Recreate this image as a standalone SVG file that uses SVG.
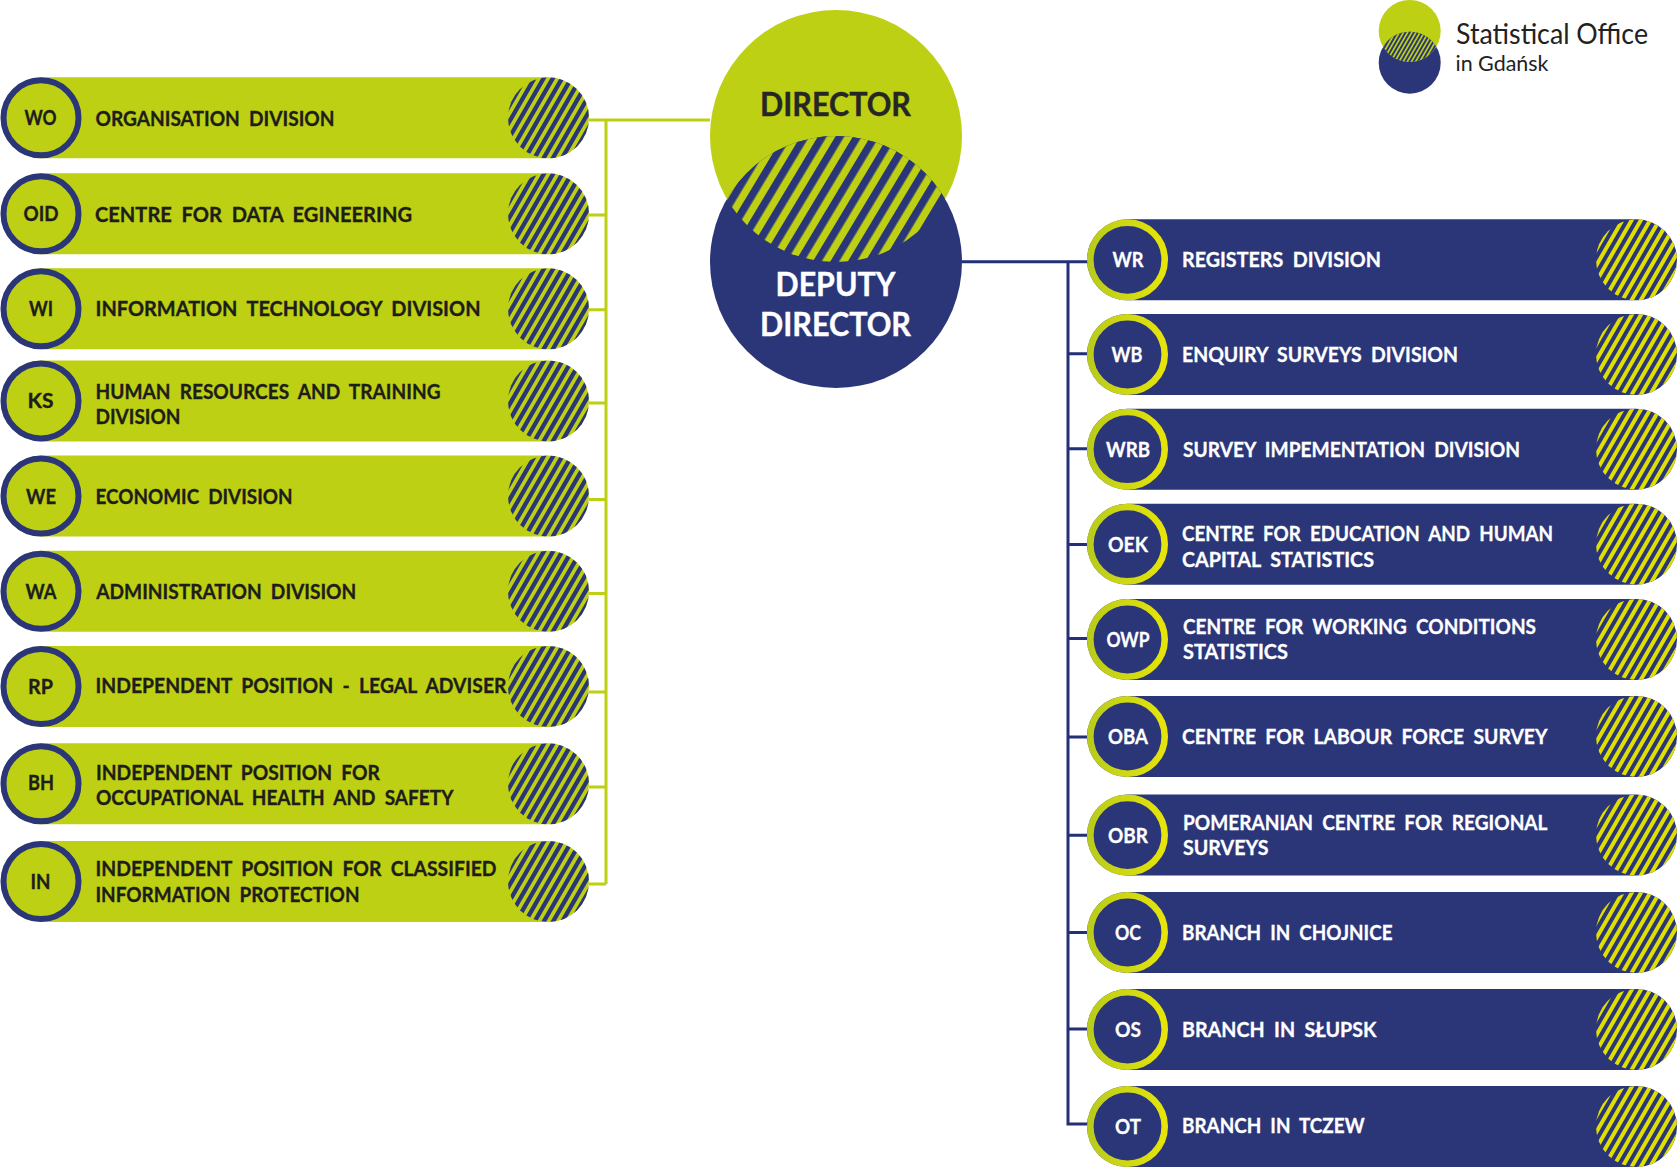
<svg xmlns="http://www.w3.org/2000/svg" width="1677" height="1167" viewBox="0 0 1677 1167">
<style>
text{font-family:"Lato","Noto Sans",sans-serif;font-weight:700;word-spacing:5px}
.d{fill:#1d1d1b;stroke:#1d1d1b;stroke-width:.35px;font-size:21px}
.w{fill:#fff;stroke:#fff;stroke-width:.3px;font-size:21px}
.d:not(.c),.w:not(.c){transform:translateY(-.7px)}
.c{text-anchor:middle}
.big{font-size:32px;text-anchor:middle;word-spacing:0;stroke-width:.4px}
.logo{font-family:"Lato","Open Sans",sans-serif;font-weight:400;fill:#222;word-spacing:0}
.cg{fill:none;stroke:#bdd013;stroke-width:3}
.cn{fill:none;stroke:#232f77;stroke-width:3}
</style>
<defs>
<pattern id="hC" patternUnits="userSpaceOnUse" width="15" height="15" patternTransform="translate(836.8 134.2) rotate(31)"><rect width="15" height="15" fill="#bdd013"/><rect width="7.6" height="15" fill="#2b3679"/></pattern>
<linearGradient id="ring"><stop offset="0" stop-color="#b9cc1b"/><stop offset="1" stop-color="#e6e40a"/></linearGradient>
<clipPath id="lensC"><circle cx="836" cy="136" r="126"/></clipPath>
<clipPath id="lensS1"><circle cx="1409.7" cy="31" r="31"/></clipPath>
<clipPath id="lensS2"><circle cx="1409.7" cy="62.7" r="31"/></clipPath>
<clipPath id="hatchClip"><circle r="40.5"/></clipPath>
<path id="stripes" fill="none" transform="scale(1.05) rotate(-3)" d="M-69.13 8.7l49 -75.5M-62.76 12.85l49 -75.5M-56.38 16.99l49 -75.5M-50 21.13l49 -75.5M-43.63 25.27l49 -75.5M-37.25 29.42l49 -75.5M-30.88 33.56l49 -75.5M-24.5 37.7l49 -75.5M-18.12 41.84l49 -75.5M-11.75 45.98l49 -75.5M-5.37 50.13l49 -75.5M1 54.27l49 -75.5M7.38 58.41l49 -75.5M13.76 62.55l49 -75.5M20.13 66.7l49 -75.5"/>
<g id="pillL"><rect x="1" y="0" width="588" height="81" rx="40.5" fill="#bdd013"/><g transform="translate(548.5 40.5)" clip-path="url(#hatchClip)"><use href="#stripes" stroke="#2b3679" stroke-width="4.1"/></g><circle cx="41" cy="40.5" r="37.5" fill="#bdd013" stroke="#2b3679" stroke-width="6"/></g>
<g id="pillR"><rect x="1087" y="0" width="590" height="81" rx="40.5" fill="#2b3679"/><g transform="translate(1636.5 40.5)" clip-path="url(#hatchClip)"><use href="#stripes" stroke="#e0e000" stroke-width="3.8"/></g><circle cx="1127.5" cy="40.5" r="37.2" fill="#2b3679" stroke="url(#ring)" stroke-width="6.6"/></g>
</defs>
<g id="connectors">
<path class="cg" d="M589 120H710M606 120V884M589 215H606M589 309.7H606M589 403H606M589 499.5H606M589 593.5H606M589 692H606M589 787H606M589 884H606"/>
<path class="cn" d="M962 261.7H1088M1068 261.7V1124H1088M1068 353.7H1087M1068 448.7H1087M1068 544.4H1087M1068 638.5H1087M1068 737H1087M1068 835.3H1087M1068 932.6H1087M1068 1029H1087"/>
</g>
<g id="director"><circle cx="836" cy="136" r="126" fill="#bdd013"/><text class="big" x="835.5" y="115.7" fill="#262626" stroke="#262626" textLength="151" lengthAdjust="spacingAndGlyphs">DIRECTOR</text></g>
<g id="deputy-director"><circle cx="836" cy="262" r="126" fill="#2b3679"/><circle cx="836" cy="262" r="126" fill="url(#hC)" clip-path="url(#lensC)"/><text class="big" x="835.5" y="296" fill="#fff" stroke="#fff" textLength="120" lengthAdjust="spacingAndGlyphs">DEPUTY</text><text class="big" x="835.5" y="336.4" fill="#fff" stroke="#fff" textLength="151" lengthAdjust="spacingAndGlyphs">DIRECTOR</text></g>
<g id="logo"><circle cx="1409.7" cy="31" r="31" fill="#bdd013"/><circle cx="1409.7" cy="62.7" r="31" fill="#2b3679"/><g clip-path="url(#lensS1)"><g clip-path="url(#lensS2)"><rect x="1378" y="30" width="64" height="34" fill="#bdd013"/><g transform="translate(1409.7 46.8) scale(.45)"><use href="#stripes" stroke="#2b3679" stroke-width="4"/></g></g></g><text class="logo" x="1456" y="44" font-size="29.5" textLength="192" lengthAdjust="spacingAndGlyphs">Statistical Office</text><text class="logo" x="1455.5" y="71.3" font-size="22" textLength="93" lengthAdjust="spacingAndGlyphs">in Gdańsk</text></g>

<g id="WO" transform="translate(0 77.3)"><use href="#pillL"/><text class="d c" x="40.5" y="48" textLength="32" lengthAdjust="spacingAndGlyphs">WO</text><text class="d" x="95.5" y="49.3" textLength="239" lengthAdjust="spacingAndGlyphs">ORGANISATION DIVISION</text></g>
<g id="OID" transform="translate(0 173.3)"><use href="#pillL"/><text class="d c" x="41" y="48" textLength="35" lengthAdjust="spacingAndGlyphs">OID</text><text class="d" x="95" y="49" textLength="317" lengthAdjust="spacingAndGlyphs">CENTRE FOR DATA EGINEERING</text></g>
<g id="WI" transform="translate(0 268.3)"><use href="#pillL"/><text class="d c" x="41" y="48" textLength="24" lengthAdjust="spacingAndGlyphs">WI</text><text class="d" x="95.5" y="48.8" textLength="385" lengthAdjust="spacingAndGlyphs">INFORMATION TECHNOLOGY DIVISION</text></g>
<g id="KS" transform="translate(0 360.4)"><use href="#pillL"/><text class="d c" x="40.5" y="48" textLength="26" lengthAdjust="spacingAndGlyphs">KS</text><text class="d" x="95.5" y="39" textLength="345" lengthAdjust="spacingAndGlyphs">HUMAN RESOURCES AND TRAINING</text><text class="d" x="95.5" y="64.3" textLength="85" lengthAdjust="spacingAndGlyphs">DIVISION</text></g>
<g id="WE" transform="translate(0 455.6)"><use href="#pillL"/><text class="d c" x="41" y="48" textLength="30" lengthAdjust="spacingAndGlyphs">WE</text><text class="d" x="95.5" y="49" textLength="197" lengthAdjust="spacingAndGlyphs">ECONOMIC DIVISION</text></g>
<g id="WA" transform="translate(0 550.8)"><use href="#pillL"/><text class="d c" x="41" y="48" textLength="31" lengthAdjust="spacingAndGlyphs">WA</text><text class="d" x="96.3" y="49" textLength="260" lengthAdjust="spacingAndGlyphs">ADMINISTRATION DIVISION</text></g>
<g id="RP" transform="translate(0 646)"><use href="#pillL"/><text class="d c" x="40.5" y="48" textLength="25" lengthAdjust="spacingAndGlyphs">RP</text><text class="d" x="95.5" y="47.5" textLength="411" lengthAdjust="spacingAndGlyphs">INDEPENDENT POSITION - LEGAL ADVISER</text></g>
<g id="BH" transform="translate(0 743.3)"><use href="#pillL"/><text class="d c" x="41" y="47" textLength="26" lengthAdjust="spacingAndGlyphs">BH</text><text class="d" x="96" y="37" textLength="284" lengthAdjust="spacingAndGlyphs">INDEPENDENT POSITION FOR</text><text class="d" x="96" y="62.3" textLength="357.5" lengthAdjust="spacingAndGlyphs">OCCUPATIONAL HEALTH AND SAFETY</text></g>
<g id="IN" transform="translate(0 841)"><use href="#pillL"/><text class="d c" x="40.5" y="48" textLength="20" lengthAdjust="spacingAndGlyphs">IN</text><text class="d" x="95.5" y="36" textLength="401" lengthAdjust="spacingAndGlyphs">INDEPENDENT POSITION FOR CLASSIFIED</text><text class="d" x="95.5" y="61.3" textLength="264" lengthAdjust="spacingAndGlyphs">INFORMATION PROTECTION</text></g>

<g id="WR" transform="translate(0 219.3)"><use href="#pillR"/><text class="w c" x="1128" y="48" textLength="31" lengthAdjust="spacingAndGlyphs">WR</text><text class="w" x="1182" y="48.5" textLength="199" lengthAdjust="spacingAndGlyphs">REGISTERS DIVISION</text></g>
<g id="WB" transform="translate(0 314)"><use href="#pillR"/><text class="w c" x="1127" y="48" textLength="31" lengthAdjust="spacingAndGlyphs">WB</text><text class="w" x="1182" y="48.5" textLength="276" lengthAdjust="spacingAndGlyphs">ENQUIRY SURVEYS DIVISION</text></g>
<g id="WRB" transform="translate(0 408.7)"><use href="#pillR"/><text class="w c" x="1128" y="48" textLength="44" lengthAdjust="spacingAndGlyphs">WRB</text><text class="w" x="1183" y="48.5" textLength="337" lengthAdjust="spacingAndGlyphs">SURVEY IMPEMENTATION DIVISION</text></g>
<g id="OEK" transform="translate(0 503.7)"><use href="#pillR"/><text class="w c" x="1128" y="48" textLength="40" lengthAdjust="spacingAndGlyphs">OEK</text><text class="w" x="1182" y="38.3" textLength="371" lengthAdjust="spacingAndGlyphs">CENTRE FOR EDUCATION AND HUMAN</text><text class="w" x="1182" y="63.6" textLength="192" lengthAdjust="spacingAndGlyphs">CAPITAL STATISTICS</text></g>
<g id="OWP" transform="translate(0 599)"><use href="#pillR"/><text class="w c" x="1128" y="48" textLength="43" lengthAdjust="spacingAndGlyphs">OWP</text><text class="w" x="1183" y="35.3" textLength="353" lengthAdjust="spacingAndGlyphs">CENTRE FOR WORKING CONDITIONS</text><text class="w" x="1183" y="60.6" textLength="105" lengthAdjust="spacingAndGlyphs">STATISTICS</text></g>
<g id="OBA" transform="translate(0 696)"><use href="#pillR"/><text class="w c" x="1128" y="48" textLength="40" lengthAdjust="spacingAndGlyphs">OBA</text><text class="w" x="1182" y="48.5" textLength="365.5" lengthAdjust="spacingAndGlyphs">CENTRE FOR LABOUR FORCE SURVEY</text></g>
<g id="OBR" transform="translate(0 794.6)"><use href="#pillR"/><text class="w c" x="1128" y="48" textLength="40" lengthAdjust="spacingAndGlyphs">OBR</text><text class="w" x="1183" y="35.7" textLength="364.5" lengthAdjust="spacingAndGlyphs">POMERANIAN CENTRE FOR REGIONAL</text><text class="w" x="1183" y="61" textLength="85.5" lengthAdjust="spacingAndGlyphs">SURVEYS</text></g>
<g id="OC" transform="translate(0 892)"><use href="#pillR"/><text class="w c" x="1128" y="48" textLength="26" lengthAdjust="spacingAndGlyphs">OC</text><text class="w" x="1182" y="48.3" textLength="210.5" lengthAdjust="spacingAndGlyphs">BRANCH IN CHOJNICE</text></g>
<g id="OS" transform="translate(0 989)"><use href="#pillR"/><text class="w c" x="1128" y="48" textLength="26" lengthAdjust="spacingAndGlyphs">OS</text><text class="w" x="1182" y="48.3" textLength="194.5" lengthAdjust="spacingAndGlyphs">BRANCH IN SŁUPSK</text></g>
<g id="OT" transform="translate(0 1086)"><use href="#pillR"/><text class="w c" x="1128" y="48" textLength="26" lengthAdjust="spacingAndGlyphs">OT</text><text class="w" x="1182" y="47.5" textLength="182.5" lengthAdjust="spacingAndGlyphs">BRANCH IN TCZEW</text></g>
</svg>
